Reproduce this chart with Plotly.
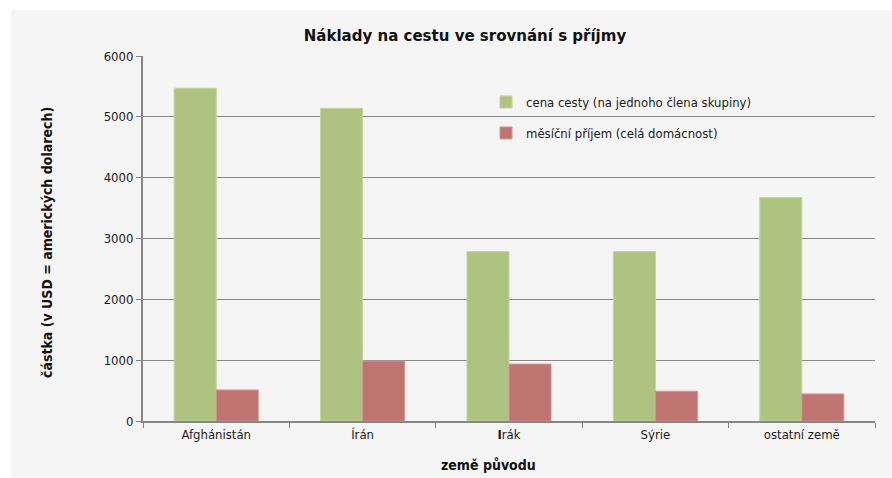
import plotly.graph_objects as go

categories = ["Afghánistán", "Írán", "Irák", "Sýrie", "ostatní země"]
tick_text = ["Afghánistán", "Írán", "<b>I</b>rák", "Sýrie", "ostatní země"]
cena_cesty = [5470, 5140, 2785, 2785, 3675]
mesicni_prijem = [510, 985, 935, 490, 445]
y_ticks = [0, 1000, 2000, 3000, 4000, 5000, 6000]

name_green = "cena cesty (na jednoho člena skupiny)"
name_red = "měsíční příjem (celá domácnost)"

FONT = "DejaVu Sans Condensed, Liberation Sans Narrow, DejaVu Sans, sans-serif"
BG = "#f5f5f5"

fig = go.Figure()
fig.add_trace(go.Bar(
    x=categories, y=cena_cesty, name=name_green,
    marker=dict(color="#afc380", line=dict(color="#c3d3a0", width=1)),
    legend="legend",
))
fig.add_trace(go.Bar(
    x=categories, y=mesicni_prijem, name=name_red,
    marker=dict(color="#c07472", line=dict(color="#d29694", width=1)),
    legend="legend2",
))

W, H = 892, 478
L, R, T, B = 143, 17, 56, 57
pw = W - L - R
ph = H - T - B

def px_x(px):
    return (px - L) / pw

def px_y(py):
    return (H - B - py) / ph

fig.update_layout(
    width=W, height=H,
    margin=dict(l=L, r=R, t=T, b=B),
    paper_bgcolor=BG, plot_bgcolor=BG,
    barmode="group", bargap=0.426, bargroupgap=0,
    font=dict(family=FONT, size=12, color="#1a1a1a"),
    title=dict(text="<b>Náklady na cestu ve srovnání s příjmy</b>",
               x=465 / W, xref="container", xanchor="center",
               y=1 - 35 / H, yref="container", yanchor="middle",
               font=dict(family=FONT, size=16.7, color="#111")),
    showlegend=True,
    legend=dict(x=px_x(486), y=px_y(102), xanchor="left", yanchor="middle",
                bgcolor="rgba(0,0,0,0)", font=dict(size=13, family=FONT)),
    legend2=dict(x=px_x(486), y=px_y(133), xanchor="left", yanchor="middle",
                 bgcolor="rgba(0,0,0,0)", font=dict(size=13, family=FONT)),
    xaxis=dict(
        showline=True, linecolor="#868686", linewidth=2,
        ticks="outside", tickson="boundaries", ticklen=5, tickcolor="#868686",
        tickfont=dict(size=13), showgrid=False,
        tickmode="array", tickvals=categories, ticktext=tick_text,
    ),
    yaxis=dict(
        range=[0, 6000], tickvals=y_ticks,
        showline=True, linecolor="#868686", linewidth=2,
        ticks="outside", ticklen=5, tickcolor="#868686",
        showgrid=True, gridcolor="#888888", gridwidth=1.3, zeroline=False,
        tickfont=dict(size=13),
    ),
    shapes=[
        # white outer margins
        dict(type="rect", xref="paper", yref="paper",
             x0=px_x(-5), x1=px_x(11), y0=px_y(H + 5), y1=px_y(-5),
             fillcolor="white", line=dict(width=0), layer="below"),
        dict(type="rect", xref="paper", yref="paper",
             x0=px_x(-5), x1=px_x(W + 5), y0=px_y(10), y1=px_y(-5),
             fillcolor="white", line=dict(width=0), layer="below"),
        # legend box background covering gridline
        dict(type="rect", xref="paper", yref="paper",
             x0=px_x(443), x1=px_x(825), y0=px_y(165), y1=px_y(70),
             fillcolor=BG, line=dict(width=0), layer="between"),
    ],
    annotations=[
        dict(text="<b>částka (v USD = amerických dolarech)</b>",
             xref="paper", yref="paper", x=px_x(47), y=px_y(243),
             textangle=-90, showarrow=False, xanchor="center", yanchor="middle",
             font=dict(size=14, family=FONT, color="#111")),
        dict(text="<b>země původu</b>",
             xref="paper", yref="paper", x=px_x(488), y=px_y(465),
             showarrow=False, xanchor="center", yanchor="middle",
             font=dict(size=14, family=FONT, color="#111")),
    ],
)

fig.write_html(
    "out.html",
    config={"displayModeBar": False},
    post_script="document.body.style.margin='0';document.body.style.padding='0';document.body.style.overflow='hidden';",
)
